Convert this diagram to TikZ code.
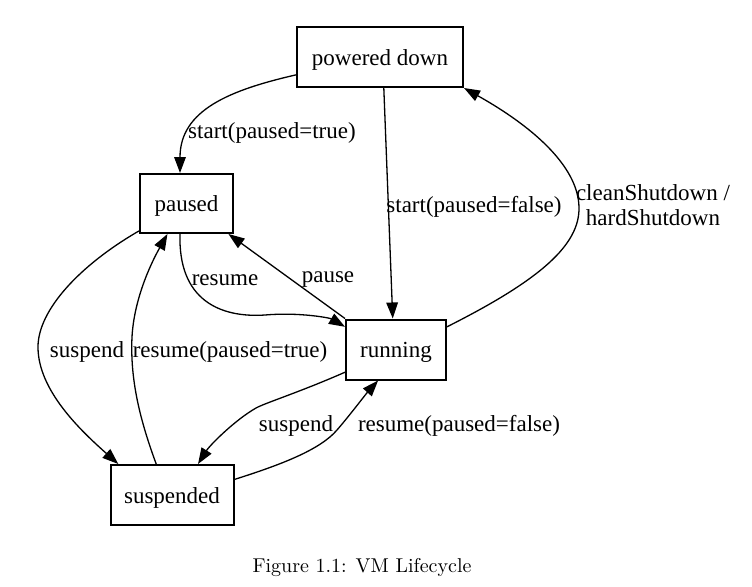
\documentclass[tikz,border=0pt]{standalone}
\usepackage{fontspec}
\usepackage{xcolor}
\usepackage{tikz}
\usetikzlibrary{arrows.meta,positioning}
\newfontfamily\dotfont{Liberation Serif}
\tikzset{
  vmstate/.style={draw,line width=1pt,rectangle,minimum height=30pt,inner sep=0pt,text height=8pt,text depth=0pt,font=\dotfont\fontsize{11.5}{12.5}\selectfont},
  edge/.style={-{Triangle[length=8pt,width=5.8pt]},line width=0.65pt},
  lbl/.style={inner sep=0pt,align=center,font=\dotfont\fontsize{11.5}{12.5}\selectfont}
}
\begin{document}
\begin{tikzpicture}[x=0.5pt,y=-0.5pt]
        \useasboundingbox (0,0) rectangle (752,586);
        \node[vmstate,minimum width=83pt] (pd) at (380,57) {powered down};
        \node[vmstate,minimum width=46.5pt,minimum height=29.5pt] (paused) at (186.5,203.5) {paused};
        \node[vmstate,minimum width=50pt] (running) at (396,349.5) {running};
        \node[vmstate,minimum width=61.5pt] (suspended) at (172,495) {suspended};
        % transitions
        \draw[edge] (pd.192) .. controls (230,90) and (180,110) .. (paused.102);
        \draw[edge] (pd.277) -- (running.96);
        \draw[edge] (running.24) .. controls (540,280) and (580,245) .. (579,207) .. controls (578,165) and (530,125) .. (pd.south east);
        \draw[edge] (paused.258) .. controls (178,300) and (220,318) .. (265,315) .. controls (300,312) and (330,318) .. (running.156);
        \draw[edge] (running.north west) -- (paused.324);
        \draw[edge] (paused.210) .. controls (80,265) and (38,310) .. (38,347) .. controls (38,390) and (80,430) .. (suspended.150);
        \draw[edge] (suspended.117) .. controls (140,420) and (130,380) .. (132,337) .. controls (134,300) and (150,265) .. (paused.238);
        \draw[edge] (running.204) .. controls (300,392) and (265,403) .. (256,408) .. controls (235,420) and (210,445) .. (suspended.50);
        \draw[edge] (suspended.14) .. controls (280,465) and (320,450) .. (337,430) .. controls (350,415) and (365,395) .. (running.240);
        % labels
        \node[lbl] (lstarttrue) at (272,133) {start(paused=true)};
        \node[lbl] (lstartfalse) at (474,207) {start(paused=false)};
        \node[lbl] (lshutdown) at (653,205) {cleanShutdown /\\hardShutdown};
        \node[lbl] (lresume) at (225,280) {resume};
        \node[lbl] (lpause) at (328,280) {pause};
        \node[lbl] (lsuspendl) at (87,352) {suspend};
        \node[lbl] (lresumetrue) at (230,352) {resume(paused=true)};
        \node[lbl] (lsuspendr) at (296,426) {suspend};
        \node[lbl] (lresumefalse) at (459,426) {resume(paused=false)};
        \node[inner sep=0pt,font=\fontsize{10}{12}\selectfont] (caption) at (362,568) {Figure 1.1: VM Lifecycle};
    \end{tikzpicture}
\end{document}
